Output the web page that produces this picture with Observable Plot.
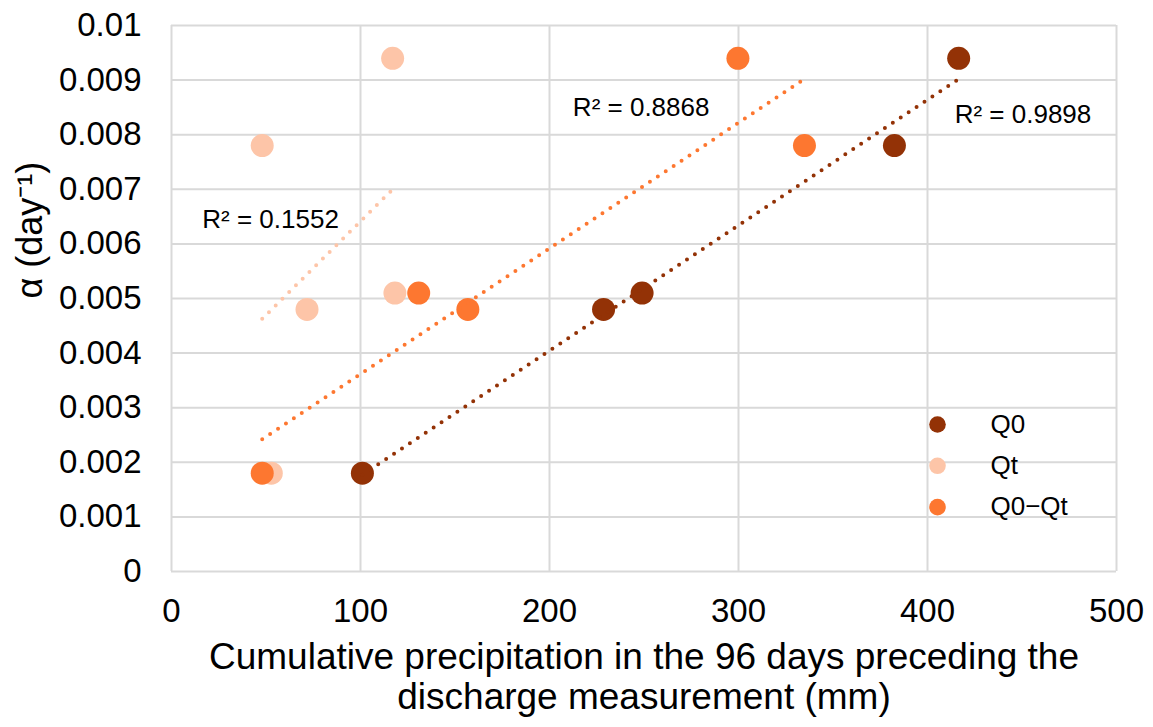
<!DOCTYPE html>
<html><head><meta charset="utf-8">
<script src="https://cdn.jsdelivr.net/npm/d3@7"></script>
<script src="https://cdn.jsdelivr.net/npm/@observablehq/plot@0.6"></script>
<style>
body{margin:0;background:#fff;}
svg{font-family:"Liberation Sans",Arial,sans-serif;}
</style>
</head><body><div id="chart"></div>
<script>
// ---- data ----
const seriesNames = ["Q0", "Qt", "Q0−Qt"];
const seriesColors = ["#933206", "#fdc5a8", "#fd7730"];
const q0Precip = [101, 228.6, 249, 382.5, 416.5];
const q0Alpha = [0.0018, 0.0048, 0.0051, 0.0078, 0.0094];
const qtPrecip = [52.8, 71.7, 118.2, 48, 117];
const qtAlpha = [0.0018, 0.0048, 0.0051, 0.0078, 0.0094];
const diffPrecip = [48, 156.8, 130.8, 334.9, 299.7];
const diffAlpha = [0.0018, 0.0048, 0.0051, 0.0078, 0.0094];
const r2Labels = ["R² = 0.9898", "R² = 0.1552", "R² = 0.8868"];
const xTickValues = [0, 100, 200, 300, 400, 500];
const yTickValues = [0, 0.001, 0.002, 0.003, 0.004, 0.005, 0.006, 0.007, 0.008, 0.009, 0.01];
const yTickLabels = ["0", "0.001", "0.002", "0.003", "0.004", "0.005", "0.006", "0.007", "0.008", "0.009", "0.01"];
const xTitle = "Cumulative precipitation in the 96 days preceding the\ndischarge measurement (mm)";
const yTitle = "α (day⁻¹)";

// ---- build ----
const seriesX = [q0Precip, qtPrecip, diffPrecip];
const seriesY = [q0Alpha, qtAlpha, diffAlpha];
const points = seriesNames.flatMap((name, s) =>
  seriesX[s].map((x, i) => ({series: name, x, y: seriesY[s][i]})));

function fitEnd(xs, ys) {
  const mx = d3.mean(xs), my = d3.mean(ys);
  let sxy = 0, sxx = 0;
  xs.forEach((x, i) => { sxy += (x - mx) * (ys[i] - my); sxx += (x - mx) ** 2; });
  const b = sxy / sxx, a = my - b * mx, x1 = d3.max(xs);
  return {x: x1, y: a + b * x1};
}
const labelStyle = [
  {textAnchor: "start", dx: -4, dy: 35},
  {textAnchor: "end", dx: -56, dy: 33},
  {textAnchor: "end", dx: -95, dy: 29}
];
const r2Marks = seriesNames.map((name, s) => {
  const e = fitEnd(seriesX[s], seriesY[s]);
  return Plot.text([{x: e.x, y: e.y, t: r2Labels[s]}], {
    x: "x", y: "y", text: "t", fontSize: 26, fill: "#000", lineAnchor: "middle", ...labelStyle[s]
  });
});
const legendMarks = seriesNames.flatMap((name, i) => [
  Plot.dot([name], {frameAnchor: "bottom-right", dx: -179, dy: -147 + 41.3 * i, r: 8.3, fill: d => d}),
  Plot.text([name], {frameAnchor: "bottom-right", dx: -126, dy: -147 + 41.3 * i, text: d => d,
    textAnchor: "start", lineAnchor: "middle", fontSize: 26, fill: "#000"})
]);

const chart = Plot.plot({
  width: 1153,
  height: 727,
  marginLeft: 171,
  marginRight: 37,
  marginTop: 25,
  marginBottom: 156,
  style: {fontFamily: "'Liberation Sans', Arial, sans-serif", background: "#fff", color: "#000"},
  x: {domain: [0, 500]},
  y: {domain: [0, 0.01]},
  color: {domain: seriesNames, range: seriesColors},
  marks: [
    Plot.gridX(xTickValues, {stroke: "#d9d9d9", strokeOpacity: 1, strokeWidth: 2}),
    Plot.gridY(yTickValues, {stroke: "#d9d9d9", strokeOpacity: 1, strokeWidth: 2}),
    Plot.axisX(xTickValues, {tickSize: 0, tickPadding: 27, fontSize: 33, label: null, tickFormat: d => String(d)}),
    Plot.axisY(yTickValues, {tickSize: 0, tickPadding: 30, fontSize: 33, label: null,
      tickFormat: d => yTickLabels[yTickValues.indexOf(d)]}),
    Plot.dot(points, {x: "x", y: "y", r: 11.5, fill: "series"}),
    Plot.linearRegressionY(points, {x: "x", y: "y", z: "series", stroke: "series", ci: 0,
      strokeWidth: 4, strokeDasharray: "0,9.5", strokeLinecap: "round"}),
    ...r2Marks,
    ...legendMarks,
    Plot.text([xTitle], {frameAnchor: "bottom", dy: 104.5, text: d => d, fontSize: 37,
      lineHeight: 1.1, lineAnchor: "middle", fill: "#000"}),
    Plot.text([yTitle], {frameAnchor: "left", dx: -141, rotate: -90, text: d => d, fontSize: 36,
      lineAnchor: "middle", fill: "#000"})
  ]
});
document.getElementById("chart").appendChild(chart);
</script>
</body></html>
